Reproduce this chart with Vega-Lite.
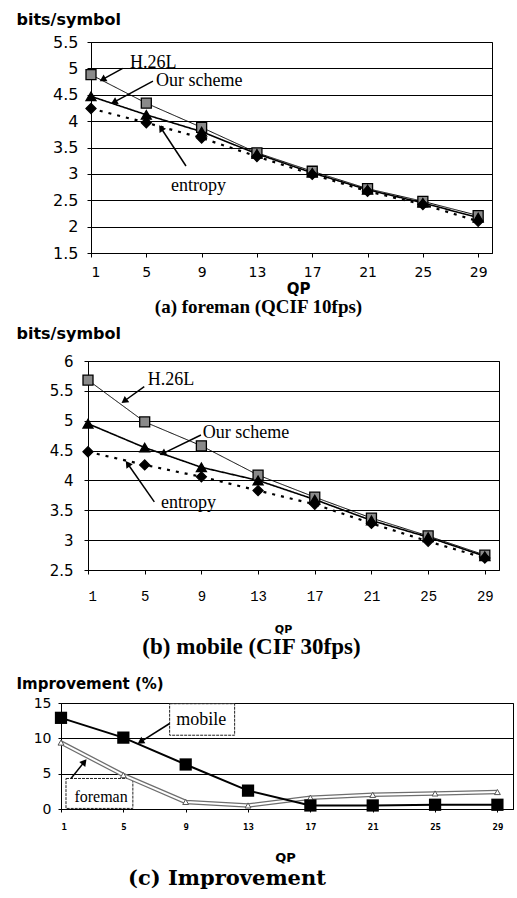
{
  "$schema": "https://vega.github.io/schema/vega-lite/v6.json",
  "padding": {"left": 14, "top": 10, "right": 5, "bottom": 5},
  "background": "white",
  "config": {
    "view": {"stroke": "black", "strokeWidth": 1},
    "axis": {"domainColor": "black", "tickColor": "black", "labelColor": "black", "titleColor": "black", "gridColor": "black", "gridWidth": 1, "gridOpacity": 1}
  },
  "datasets": {
    "a": [
      {"qp": 1, "series": "H.26L", "v": 4.88}, {"qp": 5, "series": "H.26L", "v": 4.34}, {"qp": 9, "series": "H.26L", "v": 3.88}, {"qp": 13, "series": "H.26L", "v": 3.40},
      {"qp": 17, "series": "H.26L", "v": 3.05}, {"qp": 21, "series": "H.26L", "v": 2.72}, {"qp": 25, "series": "H.26L", "v": 2.48}, {"qp": 29, "series": "H.26L", "v": 2.21},
      {"qp": 1, "series": "Our scheme", "v": 4.47}, {"qp": 5, "series": "Our scheme", "v": 4.12}, {"qp": 9, "series": "Our scheme", "v": 3.80}, {"qp": 13, "series": "Our scheme", "v": 3.38},
      {"qp": 17, "series": "Our scheme", "v": 3.02}, {"qp": 21, "series": "Our scheme", "v": 2.70}, {"qp": 25, "series": "Our scheme", "v": 2.45}, {"qp": 29, "series": "Our scheme", "v": 2.17},
      {"qp": 1, "series": "entropy", "v": 4.24}, {"qp": 5, "series": "entropy", "v": 3.97}, {"qp": 9, "series": "entropy", "v": 3.68}, {"qp": 13, "series": "entropy", "v": 3.33},
      {"qp": 17, "series": "entropy", "v": 2.99}, {"qp": 21, "series": "entropy", "v": 2.67}, {"qp": 25, "series": "entropy", "v": 2.42}, {"qp": 29, "series": "entropy", "v": 2.10}
    ],
    "b": [
      {"qp": 1, "series": "H.26L", "v": 5.68}, {"qp": 5, "series": "H.26L", "v": 4.98}, {"qp": 9, "series": "H.26L", "v": 4.58}, {"qp": 13, "series": "H.26L", "v": 4.09},
      {"qp": 17, "series": "H.26L", "v": 3.72}, {"qp": 21, "series": "H.26L", "v": 3.37}, {"qp": 25, "series": "H.26L", "v": 3.07}, {"qp": 29, "series": "H.26L", "v": 2.75},
      {"qp": 1, "series": "Our scheme", "v": 4.95}, {"qp": 5, "series": "Our scheme", "v": 4.55}, {"qp": 9, "series": "Our scheme", "v": 4.22}, {"qp": 13, "series": "Our scheme", "v": 4.00},
      {"qp": 17, "series": "Our scheme", "v": 3.68}, {"qp": 21, "series": "Our scheme", "v": 3.33}, {"qp": 25, "series": "Our scheme", "v": 3.05}, {"qp": 29, "series": "Our scheme", "v": 2.73},
      {"qp": 1, "series": "entropy", "v": 4.48}, {"qp": 5, "series": "entropy", "v": 4.26}, {"qp": 9, "series": "entropy", "v": 4.06}, {"qp": 13, "series": "entropy", "v": 3.83},
      {"qp": 17, "series": "entropy", "v": 3.60}, {"qp": 21, "series": "entropy", "v": 3.28}, {"qp": 25, "series": "entropy", "v": 2.98}, {"qp": 29, "series": "entropy", "v": 2.70}
    ],
    "c": [
      {"qp": 1, "series": "mobile", "v": 12.9}, {"qp": 5, "series": "mobile", "v": 10.1}, {"qp": 9, "series": "mobile", "v": 6.3}, {"qp": 13, "series": "mobile", "v": 2.6},
      {"qp": 17, "series": "mobile", "v": 0.5}, {"qp": 21, "series": "mobile", "v": 0.5}, {"qp": 25, "series": "mobile", "v": 0.6}, {"qp": 29, "series": "mobile", "v": 0.6},
      {"qp": 1, "series": "foreman", "v": 9.4}, {"qp": 5, "series": "foreman", "v": 4.8}, {"qp": 9, "series": "foreman", "v": 1.0}, {"qp": 13, "series": "foreman", "v": 0.5},
      {"qp": 17, "series": "foreman", "v": 1.6}, {"qp": 21, "series": "foreman", "v": 2.0}, {"qp": 25, "series": "foreman", "v": 2.2}, {"qp": 29, "series": "foreman", "v": 2.4}
    ],
    "notes": [
      {"panel": "a", "label": "H.26L", "qp": 3.82, "v": 5.1},
      {"panel": "a", "label": "Our scheme", "qp": 5.7, "v": 4.76},
      {"panel": "a", "label": "entropy", "qp": 6.78, "v": 2.77},
      {"panel": "b", "label": "H.26L", "qp": 5.21, "v": 5.68},
      {"panel": "b", "label": "Our scheme", "qp": 9.09, "v": 4.79},
      {"panel": "b", "label": "entropy", "qp": 6.15, "v": 3.62},
      {"panel": "c", "label": "mobile", "qp": 8.4, "v": 12.55},
      {"panel": "c", "label": "foreman", "qp": 1.86, "v": 1.72}
    ],
    "arrows": [
      {"panel": "a", "id": "a1", "qp": 1.84, "v": 4.79, "qp2": 3.29, "v2": 5.0},
      {"panel": "a", "id": "a2", "qp": 2.66, "v": 4.36, "qp2": 5.48, "v2": 4.76},
      {"panel": "a", "id": "a3", "qp": 6.06, "v": 3.87, "qp2": 7.87, "v2": 3.15},
      {"panel": "b", "id": "b1", "qp": 3.56, "v": 5.33, "qp2": 4.97, "v2": 5.57},
      {"panel": "b", "id": "b2", "qp": 6.27, "v": 4.45, "qp2": 8.97, "v2": 4.76},
      {"panel": "b", "id": "b3", "qp": 3.8, "v": 4.28, "qp2": 5.68, "v2": 3.64},
      {"panel": "c", "id": "c1", "qp": 6.1, "v": 9.5, "qp2": 7.97, "v2": 12.1},
      {"panel": "c", "id": "c2", "qp": 2.5, "v": 6.67, "qp2": 1.64, "v2": 4.32}
    ],
    "boxes": [
      {"id": "mobile", "qp": 7.97, "qp2": 12.14, "v": 14.9, "v2": 10.44},
      {"id": "foreman", "qp": 1.32, "qp2": 5.61, "v": 4.32, "v2": 0.08}
    ],
    "spacer": [{"s": ""}]
  },
  "spacing": 15,
  "vconcat": [
    {
      "spacing": 6,
      "vconcat": [
        {"spacing": 0, "hconcat": [
        {"width": 1, "height": 1, "data": {"name": "spacer"}, "mark": {"type": "text", "text": "", "fontSize": 0}, "view": {"stroke": null}},
        {
          "width": 401,
          "height": 211,
          "title": {"text": "(a) foreman (QCIF 10fps)", "orient": "bottom", "font": "Liberation Serif", "fontSize": 19, "fontWeight": "bold", "color": "black", "dx": -33, "offset": 2},
          "encoding": {
            "x": {"field": "qp", "type": "quantitative", "scale": {"domain": [1, 30], "nice": false, "zero": false},
              "axis": {"values": [1, 5, 9, 13, 17, 21, 25, 29], "grid": false, "tickSize": 4, "labelFont": "DejaVu Sans", "labelFontSize": 14, "labelPadding": 8, "title": "QP", "titleFont": "DejaVu Sans", "titleFontSize": 15, "titleFontWeight": "bold", "titlePadding": 2, "titleX": 207, "titleAlign": "center"}},
            "y": {"field": "v", "type": "quantitative", "scale": {"domain": [1.5, 5.5], "nice": false, "zero": false},
              "axis": {"values": [1.5, 2, 2.5, 3, 3.5, 4, 4.5, 5, 5.5], "format": "~g", "grid": true, "tickSize": 4, "labelFont": "DejaVu Sans", "labelFontSize": 16, "labelPadding": 9, "title": "bits/symbol", "titleAngle": 0, "titleAlign": "left", "titleBaseline": "alphabetic", "titleX": -75, "titleY": -18, "titleFont": "DejaVu Sans", "titleFontSize": 16, "titleFontWeight": "bold"}}
          },
          "layer": [
            {
              "data": {"name": "a"},
              "mark": {"type": "line", "color": "black"},
              "encoding": {
                "detail": {"field": "series"},
                "strokeWidth": {"field": "series", "scale": {"domain": ["H.26L", "Our scheme", "entropy"], "range": [1, 2.2, 2]}, "legend": null},
                "strokeDash": {"field": "series", "scale": {"domain": ["H.26L", "Our scheme", "entropy"], "range": [[1, 0], [1, 0], [3, 6]]}, "legend": null}
              }
            },
            {
              "data": {"name": "a"},
              "mark": {"type": "point", "filled": true, "stroke": "black", "strokeWidth": 1.3, "size": 100, "opacity": 1},
              "encoding": {
                "shape": {"field": "series", "scale": {"domain": ["H.26L", "Our scheme", "entropy"], "range": ["square", "triangle-up", "diamond"]}, "legend": null},
                "fill": {"field": "series", "scale": {"domain": ["H.26L", "Our scheme", "entropy"], "range": ["#8a8a8a", "black", "black"]}, "legend": null}
              }
            },
            {
              "data": {"name": "arrows"},
              "transform": [{"filter": "datum.panel === 'a'"}],
              "mark": {"type": "rule", "color": "black", "strokeWidth": 1.5},
              "encoding": {"x2": {"field": "qp2"}, "y2": {"field": "v2"}}
            },
            {"data": {"name": "arrows"}, "transform": [{"filter": "datum.id === 'a1'"}], "mark": {"type": "point", "shape": "triangle-up", "filled": true, "color": "black", "size": 60, "opacity": 1, "angle": 240}},
            {"data": {"name": "arrows"}, "transform": [{"filter": "datum.id === 'a2'"}], "mark": {"type": "point", "shape": "triangle-up", "filled": true, "color": "black", "size": 60, "opacity": 1, "angle": 242}},
            {"data": {"name": "arrows"}, "transform": [{"filter": "datum.id === 'a3'"}], "mark": {"type": "point", "shape": "triangle-up", "filled": true, "color": "black", "size": 60, "opacity": 1, "angle": 327}},
            {
              "data": {"name": "notes"},
              "transform": [{"filter": "datum.panel === 'a'"}],
              "mark": {"type": "text", "font": "Liberation Serif", "fontSize": 18, "align": "left", "baseline": "middle", "color": "black"},
              "encoding": {"text": {"field": "label"}}
            }
          ]
        }
        ]},
        {"spacing": 0, "hconcat": [
        {"width": 1, "height": 1, "data": {"name": "spacer"}, "mark": {"type": "text", "text": "", "fontSize": 0}, "view": {"stroke": null}},
        {
          "width": 411,
          "height": 209,
          "title": {"text": "(b) mobile (CIF 30fps)", "orient": "bottom", "font": "Liberation Serif", "fontSize": 23, "fontWeight": "bold", "color": "black", "dx": -42, "offset": 2},
          "encoding": {
            "x": {"field": "qp", "type": "quantitative", "scale": {"domain": [1, 30], "nice": false, "zero": false},
              "axis": {"values": [1, 5, 9, 13, 17, 21, 25, 29], "grid": false, "tickSize": 4, "labelFont": "Liberation Mono", "labelFontSize": 14, "labelPadding": 15, "title": "QP", "titleFont": "DejaVu Sans", "titleFontSize": 11, "titleFontWeight": "bold", "titlePadding": 20, "titleX": 195, "titleAlign": "center"}},
            "y": {"field": "v", "type": "quantitative", "scale": {"domain": [2.5, 6], "nice": false, "zero": false},
              "axis": {"values": [2.5, 3, 3.5, 4, 4.5, 5, 5.5, 6], "format": "~g", "grid": true, "tickSize": 4, "labelFont": "DejaVu Sans", "labelFontSize": 15, "labelPadding": 11, "title": "bits/symbol", "titleAngle": 0, "titleAlign": "left", "titleBaseline": "alphabetic", "titleX": -72, "titleY": -23, "titleFont": "DejaVu Sans", "titleFontSize": 16, "titleFontWeight": "bold"}}
          },
          "layer": [
            {
              "data": {"name": "b"},
              "mark": {"type": "line", "color": "black"},
              "encoding": {
                "detail": {"field": "series"},
                "strokeWidth": {"field": "series", "scale": {"domain": ["H.26L", "Our scheme", "entropy"], "range": [1, 2.2, 2]}, "legend": null},
                "strokeDash": {"field": "series", "scale": {"domain": ["H.26L", "Our scheme", "entropy"], "range": [[1, 0], [1, 0], [3, 6]]}, "legend": null}
              }
            },
            {
              "data": {"name": "b"},
              "mark": {"type": "point", "filled": true, "stroke": "black", "strokeWidth": 1.3, "size": 100, "opacity": 1},
              "encoding": {
                "shape": {"field": "series", "scale": {"domain": ["H.26L", "Our scheme", "entropy"], "range": ["square", "triangle-up", "diamond"]}, "legend": null},
                "fill": {"field": "series", "scale": {"domain": ["H.26L", "Our scheme", "entropy"], "range": ["#8a8a8a", "black", "black"]}, "legend": null}
              }
            },
            {
              "data": {"name": "arrows"},
              "transform": [{"filter": "datum.panel === 'b'"}],
              "mark": {"type": "rule", "color": "black", "strokeWidth": 1.5},
              "encoding": {"x2": {"field": "qp2"}, "y2": {"field": "v2"}}
            },
            {"data": {"name": "arrows"}, "transform": [{"filter": "datum.id === 'b1'"}], "mark": {"type": "point", "shape": "triangle-up", "filled": true, "color": "black", "size": 60, "opacity": 1, "angle": 234}},
            {"data": {"name": "arrows"}, "transform": [{"filter": "datum.id === 'b2'"}], "mark": {"type": "point", "shape": "triangle-up", "filled": true, "color": "black", "size": 60, "opacity": 1, "angle": 244}},
            {"data": {"name": "arrows"}, "transform": [{"filter": "datum.id === 'b3'"}], "mark": {"type": "point", "shape": "triangle-up", "filled": true, "color": "black", "size": 60, "opacity": 1, "angle": 325}},
            {
              "data": {"name": "notes"},
              "transform": [{"filter": "datum.panel === 'b'"}],
              "mark": {"type": "text", "font": "Liberation Serif", "fontSize": 18, "align": "left", "baseline": "middle", "color": "black"},
              "encoding": {"text": {"field": "label"}}
            }
          ]
        }
        ]}
      ]
    },
    {"spacing": 0, "hconcat": [
    {"width": 1, "height": 1, "data": {"name": "spacer"}, "mark": {"type": "text", "text": "", "fontSize": 0}, "view": {"stroke": null}},
    {
      "width": 452,
      "height": 106,
      "title": {"text": "(c) Improvement", "orient": "bottom", "font": "DejaVu Serif", "fontSize": 21, "fontWeight": "bold", "color": "black", "dx": -60, "offset": 4},
      "encoding": {
        "x": {"field": "qp", "type": "quantitative", "scale": {"domain": [1, 30], "nice": false, "zero": false},
          "axis": {"values": [1, 5, 9, 13, 17, 21, 25, 29], "grid": false, "tickSize": 3, "labelFont": "DejaVu Sans Mono", "labelFontSize": 9, "labelFontWeight": "bold", "labelPadding": 10, "title": "QP", "titleFont": "DejaVu Sans", "titleFontSize": 13, "titleFontWeight": "bold", "titlePadding": 20, "titleX": 224, "titleAlign": "center"}},
        "y": {"field": "v", "type": "quantitative", "scale": {"domain": [0, 15], "nice": false, "zero": false},
          "axis": {"values": [0, 5, 10, 15], "format": "~g", "grid": true, "tickSize": 3, "labelFont": "DejaVu Sans", "labelFontSize": 14, "labelPadding": 7, "title": "Improvement (%)", "titleAngle": 0, "titleAlign": "left", "titleBaseline": "alphabetic", "titleX": -45, "titleY": -15, "titleFont": "DejaVu Sans", "titleFontSize": 15, "titleFontWeight": "bold"}}
      },
      "layer": [
        {
          "data": {"name": "boxes"},
          "mark": {"type": "rect", "fill": "white", "stroke": "#222222", "strokeWidth": 1, "strokeDash": [3, 1]},
          "encoding": {"x2": {"field": "qp2"}, "y2": {"field": "v2"}}
        },
        {
          "data": {"name": "c"},
          "transform": [{"filter": "datum.series === 'foreman'"}],
          "mark": {"type": "line", "color": "#6e6e6e", "strokeWidth": 4.5}
        },
        {
          "data": {"name": "c"},
          "transform": [{"filter": "datum.series === 'foreman'"}],
          "mark": {"type": "line", "color": "white", "strokeWidth": 2}
        },
        {
          "data": {"name": "c"},
          "transform": [{"filter": "datum.series === 'foreman'"}],
          "mark": {"type": "point", "shape": "triangle-up", "filled": true, "fill": "white", "stroke": "#555555", "strokeWidth": 1, "size": 35, "opacity": 1}
        },
        {
          "data": {"name": "c"},
          "transform": [{"filter": "datum.series === 'mobile'"}],
          "mark": {"type": "line", "color": "black", "strokeWidth": 2}
        },
        {
          "data": {"name": "c"},
          "transform": [{"filter": "datum.series === 'mobile'"}],
          "mark": {"type": "point", "shape": "square", "filled": true, "color": "black", "size": 150, "opacity": 1}
        },
        {
          "data": {"name": "arrows"},
          "transform": [{"filter": "datum.panel === 'c'"}],
          "mark": {"type": "rule", "color": "black", "strokeWidth": 1.5},
          "encoding": {"x2": {"field": "qp2"}, "y2": {"field": "v2"}}
        },
        {"data": {"name": "arrows"}, "transform": [{"filter": "datum.id === 'c1'"}], "mark": {"type": "point", "shape": "triangle-up", "filled": true, "color": "black", "size": 60, "opacity": 1, "angle": 238}},
        {"data": {"name": "arrows"}, "transform": [{"filter": "datum.id === 'c2'"}], "mark": {"type": "point", "shape": "triangle-up", "filled": true, "color": "black", "size": 60, "opacity": 1, "angle": 39}},
        {
          "data": {"name": "notes"},
          "transform": [{"filter": "datum.panel === 'c' && datum.label === 'mobile'"}],
          "mark": {"type": "text", "font": "Liberation Serif", "fontSize": 18, "align": "left", "baseline": "middle", "color": "black"},
          "encoding": {"text": {"field": "label"}}
        },
        {
          "data": {"name": "notes"},
          "transform": [{"filter": "datum.panel === 'c' && datum.label === 'foreman'"}],
          "mark": {"type": "text", "font": "Liberation Serif", "fontSize": 16, "align": "left", "baseline": "middle", "color": "black"},
          "encoding": {"text": {"field": "label"}}
        }
      ]
    }
    ]}
  ]
}
